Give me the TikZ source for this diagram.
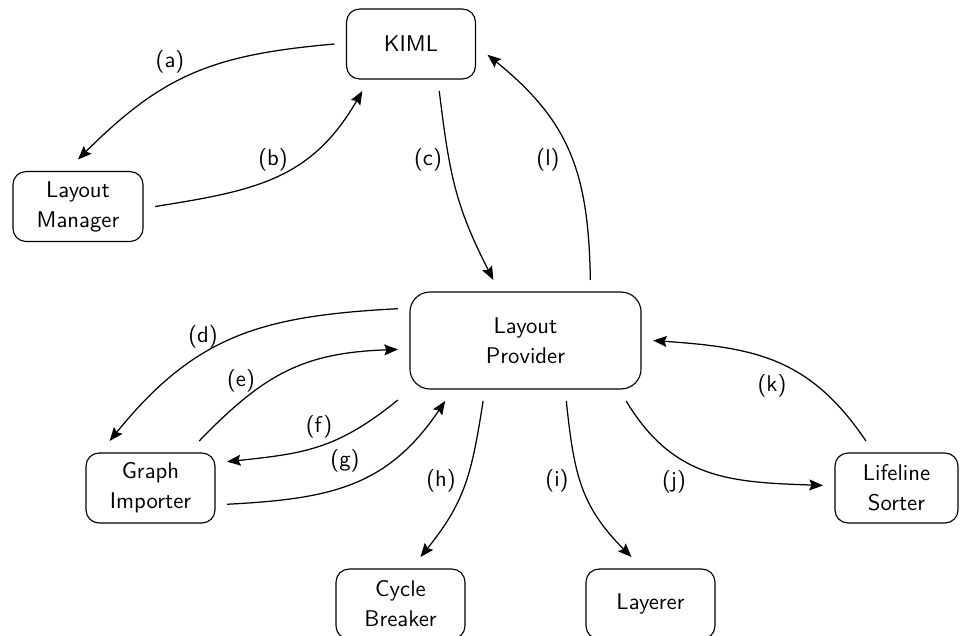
\documentclass[tikz,border=0pt]{standalone}
\usetikzlibrary{arrows.meta}
\begin{document}
\begin{tikzpicture}[x=0.4405pt,y=-0.4405pt,
  box/.style={draw, rounded corners=5.7pt, minimum width=56.8pt, minimum height=30.8pt,
    align=center, outer sep=5.3pt, line width=0.5pt,
    font=\sffamily\fontsize{10}{13.2}\selectfont},
  bigbox/.style={box, rounded corners=8.8pt, minimum width=101.8pt, minimum height=42.7pt},
  lab/.style={font=\sffamily\fontsize{10}{12}\selectfont, inner sep=0pt},
  conn/.style={-{Stealth[length=6pt,width=4.8pt,inset=1pt]}, line width=0.55pt}]
\useasboundingbox (0,0) rectangle (960,635);
% nodes
\node[box] (kiml) at (411,44) {KIML};
\node[box, minimum width=57.3pt] (lm) at (78,206.5) {Layout\\Manager};
\node[bigbox] (prov) at (525.5,340.5) {Layout\\Provider};
\node[box] (gi) at (150.5,488) {Graph\\Importer};
\node[box] (cb) at (400.5,604) {Cycle\\Breaker};
\node[box] (lay) at (650.5,604) {Layerer};
\node[box, minimum width=54.2pt] (ls) at (896.5,488) {Lifeline\\Sorter};
% connectors
\draw[conn] (kiml.west) to[out=185,in=45,looseness=1.1] (lm.north);
\draw[conn] (lm.east) to[out=9,in=240,looseness=1.1] (kiml.224);
\draw[conn] (kiml.301) to[out=277,in=117,looseness=1.1] (prov.118);
\draw[conn] (prov.43) to[out=91,in=321,looseness=1.1] (kiml.352);
\draw[conn] (prov.166) to[out=183,in=51,looseness=1.1] (gi.131);
\draw[conn] (gi.44) to[out=46,in=182,looseness=1.1] (prov.184.6);
\draw[conn] (prov.205) to[out=219,in=6,looseness=1.1] (gi.19);
\draw[conn] (gi.348) to[out=3,in=236,looseness=1.1] (prov.217.7);
\draw[conn] (prov.235.8) to[out=261,in=51,looseness=1.1] (cb.67);
\draw[conn] (prov.304.9) to[out=276,in=135,looseness=1.1] (lay.112);
\draw[conn] (prov.329) to[out=301,in=178,looseness=1.1] (ls.178);
\draw[conn] (ls.123) to[out=124,in=356,looseness=1.1] (prov.east);
% labels
\node[lab] (la) at (170,62) {(a)};
\node[lab] (lb) at (273,160) {(b)};
\node[lab] (lc) at (428,160) {(c)};
\node[lab] (ll) at (548,160) {(l)};
\node[lab] (ld) at (203,337) {(d)};
\node[lab] (le) at (241,381) {(e)};
\node[lab] (lf) at (319,427) {(f)};
\node[lab] (lg) at (345,461) {(g)};
\node[lab] (lh) at (441,481) {(h)};
\node[lab] (li) at (557,481) {(i)};
\node[lab] (lj) at (674,482) {(j)};
\node[lab] (lk) at (772,386) {(k)};
\end{tikzpicture}
\end{document}
